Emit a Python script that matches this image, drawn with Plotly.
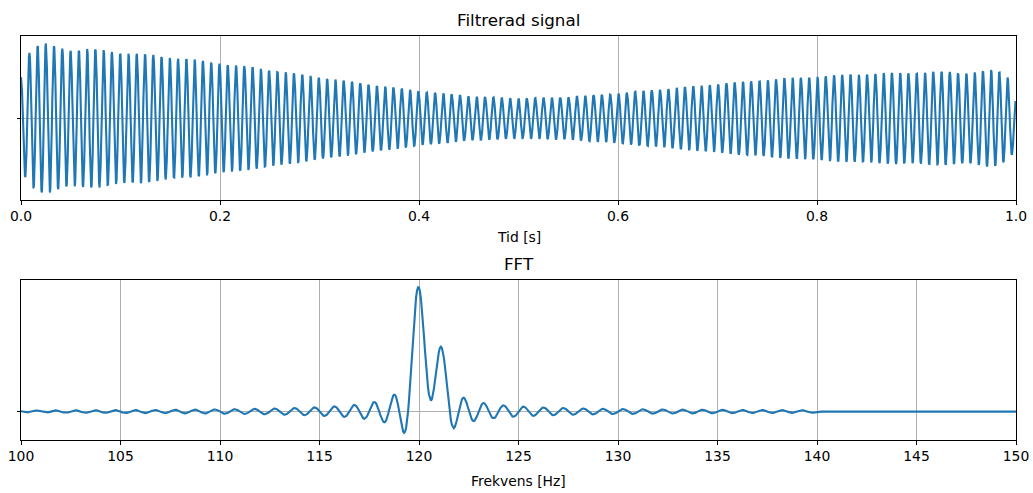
import numpy as np
import plotly.graph_objects as go

# ---- signal parameters ----
tone_freqs_hz = [120.0, 121.0]      # two peaks in the FFT
tone_amps = [1.0, 0.48]             # relative heights
decay_per_s = [0.46, 0.46]          # envelope falls from ~75px to ~47px over 1 s
band_hz = [0.0, 140.0]              # spectrum is zero above 140 Hz
fs_hz = 2000
duration_s = 1.0
pad_factor = 20

time_ticks = [0.0, 0.2, 0.4, 0.6, 0.8, 1.0]
time_tick_labels = ["0.0", "0.2", "0.4", "0.6", "0.8", "1.0"]
freq_ticks = [100, 105, 110, 115, 120, 125, 130, 135, 140, 145, 150]
freq_tick_labels = [str(v) for v in freq_ticks]
time_range = [0.0, 1.0]
freq_range = [100, 150]

# ---- build signal, zero-padded spectrum, band filter ----
n = int(fs_hz * duration_s)
t = np.arange(n) / fs_hz
x = np.zeros(n)
for f0, a, d in zip(tone_freqs_hz, tone_amps, decay_per_s):
    x += a * np.exp(-d * t) * np.cos(2 * np.pi * f0 * t)

npad = n * pad_factor
X = np.fft.rfft(x, npad)
freqs = np.fft.rfftfreq(npad, 1.0 / fs_hz)
X[(freqs < band_hz[0]) | (freqs > band_hz[1])] = 0
y_filt = np.fft.irfft(X, npad)[:n]
spec = X.real

sel = (freqs >= 99.5) & (freqs <= 150.5)
f_plot = freqs[sel]
s_plot = spec[sel]

W, H = 1033, 493
L, R = 21, 1016
top1, bot1 = 36, 200
top2, bot2 = 280, 440
PH = bot2 - top1  # plot-area height in px

def py(p):
    return (bot2 - p) / PH

def padded(lo, hi):
    r = hi - lo
    return [lo - 0.05 * r, hi + 0.05 * r]

BLUE = "#1f77b4"
FONT = "DejaVu Sans"
TICK = 13.9
TITLE = 16.7

fig = go.Figure()
fig.add_trace(go.Scatter(x=t, y=y_filt, mode="lines",
                         line=dict(color=BLUE, width=2.1),
                         xaxis="x", yaxis="y", showlegend=False))
fig.add_trace(go.Scatter(x=f_plot, y=s_plot, mode="lines",
                         line=dict(color=BLUE, width=2.1),
                         xaxis="x2", yaxis="y2", showlegend=False))

ax_common = dict(showline=True, linecolor="black", linewidth=1, mirror=True,
                 ticks="outside", ticklen=3.5, tickwidth=1, tickcolor="black",
                 showgrid=True, gridcolor="#b0b0b0", gridwidth=0.8,
                 zeroline=False, automargin=False,
                 tickfont=dict(family=FONT, size=TICK, color="black"))

fig.update_layout(
    width=W, height=H,
    margin=dict(l=L, r=W - R, t=top1, b=H - bot2, pad=0),
    paper_bgcolor="white", plot_bgcolor="white",
    xaxis=dict(domain=[0, 1], anchor="y", range=time_range,
               tickvals=time_ticks, ticktext=time_tick_labels, **ax_common),
    yaxis=dict(domain=[py(bot1), 1], anchor="x",
               range=padded(y_filt.min(), y_filt.max()),
               tickvals=[0], ticktext=[""], **ax_common),
    xaxis2=dict(domain=[0, 1], anchor="y2", range=freq_range,
                tickvals=freq_ticks, ticktext=freq_tick_labels, **ax_common),
    yaxis2=dict(domain=[0, py(top2)], anchor="x2",
                range=padded(s_plot.min(), s_plot.max()),
                tickvals=[0], ticktext=[""], **ax_common),
    annotations=[
        dict(text="Filtrerad signal", x=0.5, y=py(20), xref="paper", yref="paper",
             xanchor="center", yanchor="middle", showarrow=False,
             font=dict(family=FONT, size=TITLE, color="black")),
        dict(text="Tid [s]", x=0.5, y=py(237), xref="paper", yref="paper",
             xanchor="center", yanchor="middle", showarrow=False,
             font=dict(family=FONT, size=TICK, color="black")),
        dict(text="FFT", x=0.5, y=py(264), xref="paper", yref="paper",
             xanchor="center", yanchor="middle", showarrow=False,
             font=dict(family=FONT, size=TITLE, color="black")),
        dict(text="Frekvens [Hz]", x=0.5, y=py(481), xref="paper", yref="paper",
             xanchor="center", yanchor="middle", showarrow=False,
             font=dict(family=FONT, size=TICK, color="black")),
    ],
)

fig.write_html("out.html",
               config={"displayModeBar": False},
               post_script="document.body.style.margin='0px';document.body.style.padding='0px';document.body.style.overflow='hidden';")
